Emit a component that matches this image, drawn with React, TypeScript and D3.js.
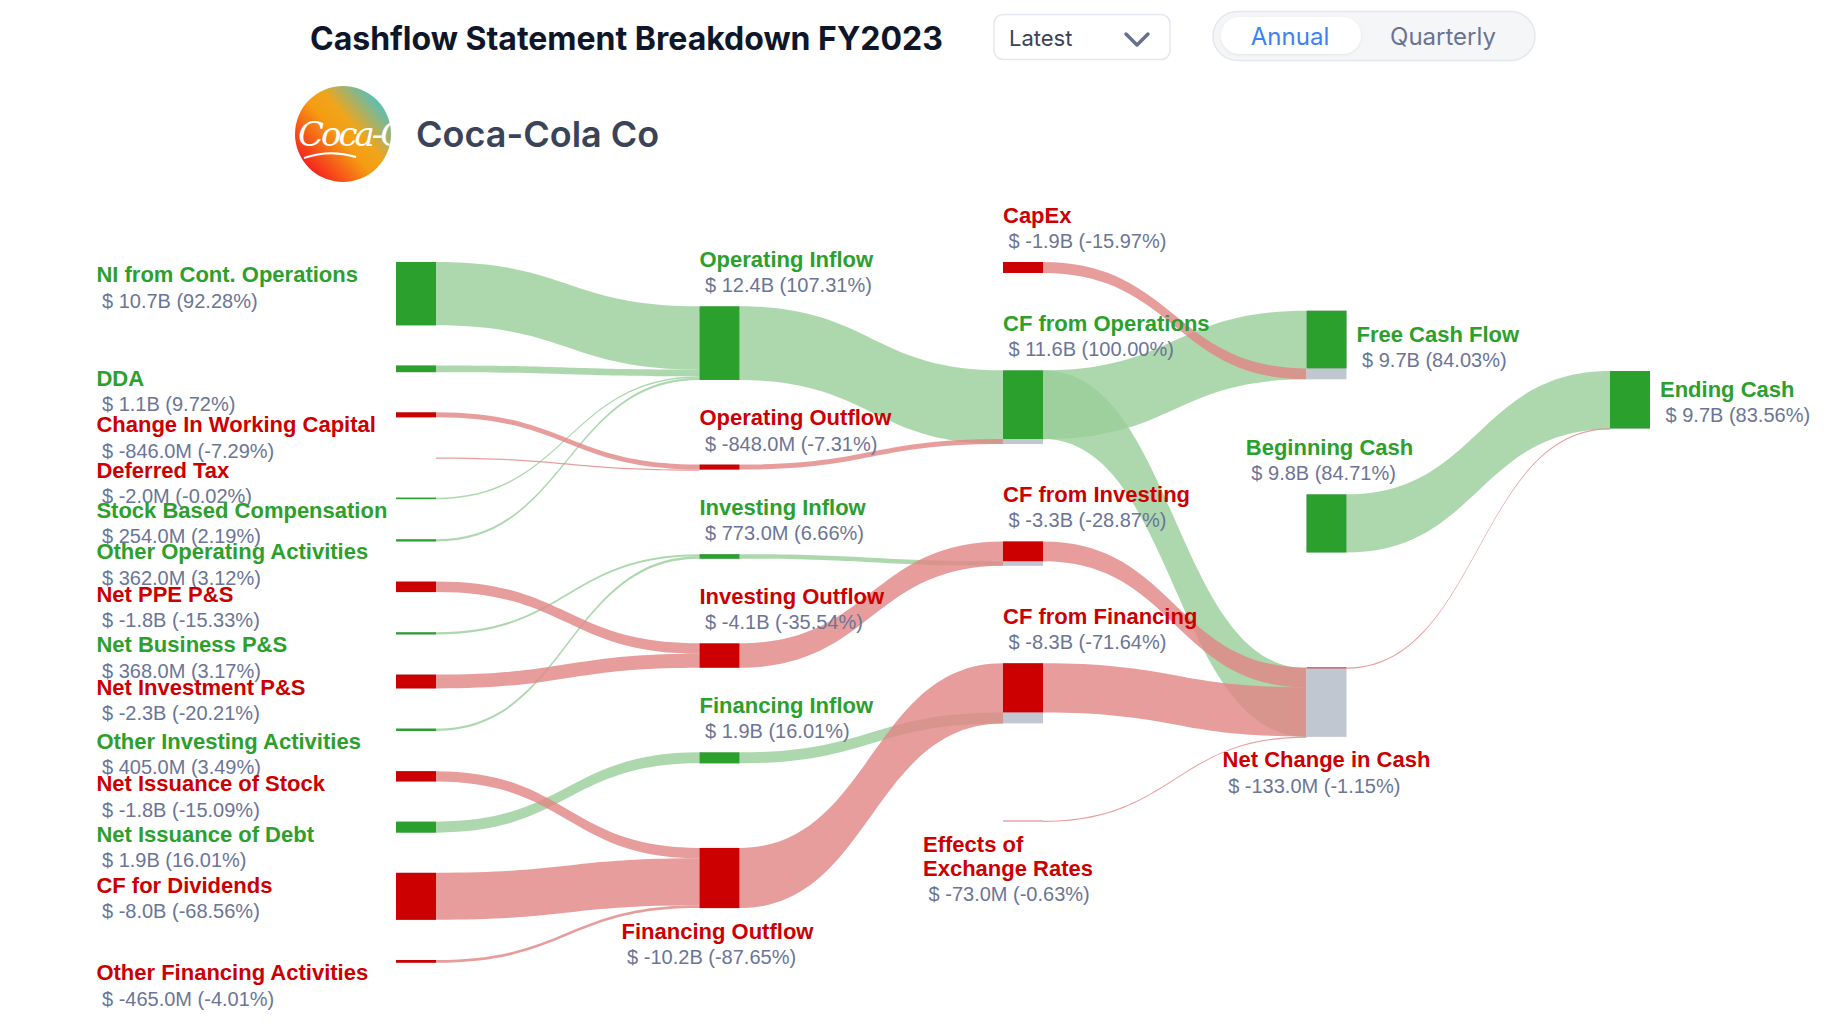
import React, { useMemo } from "react";
import * as d3 from "d3";

// ---------- DATA (values in $ millions) ----------
const NODE_LABELS: string[] = [
  "NI from Cont. Operations",
  "DDA",
  "Change In Working Capital",
  "Deferred Tax",
  "Stock Based Compensation",
  "Other Operating Activities",
  "Net PPE P&S",
  "Net Business P&S",
  "Net Investment P&S",
  "Other Investing Activities",
  "Net Issuance of Stock",
  "Net Issuance of Debt",
  "CF for Dividends",
  "Other Financing Activities",
  "Operating Inflow",
  "Operating Outflow",
  "Investing Inflow",
  "Investing Outflow",
  "Financing Inflow",
  "Financing Outflow",
  "CapEx",
  "CF from Operations",
  "CF from Investing",
  "CF from Financing",
  "Effects of Exchange Rates",
  "Free Cash Flow",
  "Beginning Cash",
  "Net Change in Cash",
  "Ending Cash",
];

const NODE_COLUMNS: number[] = [
  0, 0, 0, 0, 0, 0, 0, 0, 0, 0, 0, 0, 0, 0,
  1, 1, 1, 1, 1, 1,
  2, 2, 2, 2, 2,
  3, 3, 3,
  4,
];

const LINK_FROM: string[] = [
  "NI from Cont. Operations", "DDA", "Stock Based Compensation", "Other Operating Activities",
  "Change In Working Capital", "Deferred Tax",
  "Net Business P&S", "Other Investing Activities",
  "Net PPE P&S", "Net Investment P&S",
  "Net Issuance of Debt",
  "Net Issuance of Stock", "CF for Dividends", "Other Financing Activities",
  "Operating Inflow", "Operating Outflow",
  "Investing Inflow", "Investing Outflow",
  "Financing Inflow", "Financing Outflow",
  "CF from Operations", "CapEx",
  "CF from Operations", "CF from Investing", "CF from Financing", "Effects of Exchange Rates",
  "Beginning Cash", "Net Change in Cash",
];

const LINK_TO: string[] = [
  "Operating Inflow", "Operating Inflow", "Operating Inflow", "Operating Inflow",
  "Operating Outflow", "Operating Outflow",
  "Investing Inflow", "Investing Inflow",
  "Investing Outflow", "Investing Outflow",
  "Financing Inflow",
  "Financing Outflow", "Financing Outflow", "Financing Outflow",
  "CF from Operations", "CF from Operations",
  "CF from Investing", "CF from Investing",
  "CF from Financing", "CF from Financing",
  "Free Cash Flow", "Free Cash Flow",
  "Net Change in Cash", "Net Change in Cash", "Net Change in Cash", "Net Change in Cash",
  "Ending Cash", "Ending Cash",
];

const LINK_VALUES: number[] = [
  10704, 1127, 254, 362,
  -846, -2,
  368, 405,
  -1778, -2344,
  1857,
  -1750, -7952, -465,
  12447, -848,
  773, -4122,
  1857, -10167,
  11599, -1852,
  11599, -3349, -8310, -73,
  9825, -133,
];

const BASE_NODE = "CF from Operations";

// ---------- STYLE / LAYOUT ----------
const W = 1844;
const H = 1030;
const NODE_W = 40;
const X_FIRST = 396;
const X_LAST = 1610;
const EXTENT_TOP = 262;
const EXTENT_BOTTOM = 962.75;
const COL_TOP = [262, 306.3, 262, 310.7, 371];
const COL_GAP = [40.15, 84.6, 97.4, 115, 0];
const LEFT_LABEL_X = 96.4;

const GREEN = "#2ca02c";
const RED = "#cc0000";
const GREEN_LINK = "#98ce98";
const RED_LINK = "#e28585";
const LINK_OPACITY = 0.8;
const GREY = "#c1c7d0";
const VALUE_COLOR = "#6b7597";
const LABEL_FONT = "'Liberation Sans', Arial, Helvetica, sans-serif";

type Placement = "left" | "top" | "bottom" | "topCenter" | "right";
const PLACEMENT: Record<string, Placement> = {
  "Financing Outflow": "bottom",
  "Effects of Exchange Rates": "bottom",
  "Free Cash Flow": "right",
  "Ending Cash": "right",
  "Beginning Cash": "topCenter",
  "Net Change in Cash": "bottom",
};
const LABEL_WRAP: Record<string, string[]> = {
  "Effects of Exchange Rates": ["Effects of", "Exchange Rates"],
};
const LABEL_DX: Record<string, number> = {
  "Effects of Exchange Rates": -15,
  "Beginning Cash": 3,
  "Financing Outflow": -2,
};

let ctx: CanvasRenderingContext2D | null = null;
function measure(text: string, font: string): number {
  if (!ctx) ctx = document.createElement("canvas").getContext("2d");
  if (!ctx) return text.length * 10;
  ctx.font = font;
  return ctx.measureText(text).width;
}

function fmtMoney(v: number): string {
  return Math.abs(v) >= 1000 ? `${(v / 1000).toFixed(1)}B` : `${v.toFixed(1)}M`;
}

export default function App() {
  const layout = useMemo(() => {
    const nodes: any[] = NODE_LABELS.map((name, i) => ({ name, col: NODE_COLUMNS[i], idx: i, ins: [], outs: [] }));
    const byName = new Map(nodes.map((n) => [n.name, n]));
    const links: any[] = LINK_VALUES.map((v, i) => ({
      source: byName.get(LINK_FROM[i]),
      target: byName.get(LINK_TO[i]),
      value: v,
      idx: i,
    }));
    links.forEach((l) => {
      l.source.outs.push(l);
      l.target.ins.push(l);
    });
    nodes.forEach((n) => {
      const src = n.ins.length ? n.ins : n.outs;
      n.value = d3.sum(src, (l: any) => l.value);
      n.pos = d3.sum(n.ins, (l: any) => Math.max(0, l.value));
      n.neg = d3.sum(n.ins, (l: any) => Math.max(0, -l.value));
      n.size = n.ins.length ? Math.max(n.pos, n.neg) : Math.abs(n.value);
    });
    const columns = d3
      .groups(nodes, (n: any) => n.col)
      .sort((a, b) => a[0] - b[0])
      .map((d) => d[1]);
    const col0 = columns[0];
    const ky = (EXTENT_BOTTOM - EXTENT_TOP - (col0.length - 1) * COL_GAP[0]) / d3.sum(col0, (n: any) => n.size);
    const yScale = d3.scaleLinear().domain([0, 1]).range([0, ky]);
    const xScale = d3.scaleLinear().domain([0, columns.length - 1]).range([X_FIRST, X_LAST]);

    columns.forEach((col, ci) => {
      let y = COL_TOP[ci];
      col.forEach((n: any) => {
        n.x0 = xScale(ci);
        n.x1 = n.x0 + NODE_W;
        n.y0 = y;
        n.y1 = y + yScale(n.size);
        n.colored = yScale(Math.abs(n.value));
        y = n.y1 + COL_GAP[ci];
      });
    });

    nodes.forEach((n) => {
      n.outs.forEach((l: any) => {
        l.width = yScale(Math.abs(l.value));
        l.sy0 = n.y0;
      });
    });
    nodes.forEach((n) => {
      const domPos = n.pos >= n.neg;
      const bySrc = (a: any, b: any) => a.source.y0 - b.source.y0;
      const dom = n.ins.filter((l: any) => (l.value >= 0) === domPos).sort(bySrc);
      const minr = n.ins.filter((l: any) => (l.value >= 0) !== domPos).sort(bySrc);
      let y = n.y0;
      dom.forEach((l: any) => {
        l.ty0 = y;
        y += l.width;
      });
      y = n.y1;
      minr
        .slice()
        .reverse()
        .forEach((l: any) => {
          y -= l.width;
          l.ty0 = y;
        });
    });

    const base = byName.get(BASE_NODE).value;
    return { nodes, links, base };
  }, []);

  const { nodes, links, base } = layout;

  const bandPath = (l: any) => {
    const t = Math.max(l.width, 1.2);
    const xs = l.source.x1;
    const xt = l.target.x0;
    const xm = (xs + xt) / 2;
    const p = d3.path();
    p.moveTo(xs, l.sy0);
    p.bezierCurveTo(xm, l.sy0, xm, l.ty0, xt, l.ty0);
    p.lineTo(xt, l.ty0 + t);
    p.bezierCurveTo(xm, l.ty0 + t, xm, l.sy0 + t, xs, l.sy0 + t);
    p.closePath();
    return p.toString();
  };

  const nameFont = `bold 22px ${LABEL_FONT}`;
  const valueFont = `20px ${LABEL_FONT}`;
  const spaceW = measure(" ", valueFont);

  const renderLabel = (n: any) => {
    const placement: Placement = PLACEMENT[n.name] || (n.col === 0 ? "left" : "top");
    const lines = LABEL_WRAP[n.name] || [n.name];
    const valueText = `$ ${fmtMoney(n.value)} (${((n.value / base) * 100).toFixed(2)}%)`;
    const color = n.value >= 0 ? GREEN : RED;
    const lh = 24;
    let x = n.x0;
    let yName = 0;
    if (placement === "left") {
      x = LEFT_LABEL_X;
      yName = n.y0 + 12.6;
    } else if (placement === "top") {
      x = n.x0;
      yName = n.y0 - 47;
    } else if (placement === "right") {
      x = n.x1 + 10;
      yName = (n.y0 + n.y1) / 2 - 11;
    } else {
      const wMax = Math.max(
        ...lines.map((s) => measure(s, nameFont)),
        measure(valueText, valueFont) + spaceW
      );
      x = (n.x0 + n.x1) / 2 - wMax / 2 + (LABEL_DX[n.name] || 0);
      yName = placement === "topCenter" ? n.y0 - 47 : n.y1 + 23;
    }
    const yValue = yName + (lines.length - 1) * lh + 26;
    return (
      <g key={"lab" + n.idx} fontFamily={LABEL_FONT}>
        {lines.map((s, i) => (
          <text key={i} x={x} y={yName + i * lh} fontSize={22} fontWeight="bold" fill={color} dominantBaseline="central">
            {s}
          </text>
        ))}
        <text x={x + spaceW} y={yValue} fontSize={20} fill={VALUE_COLOR} dominantBaseline="central">
          {valueText}
        </text>
      </g>
    );
  };

  return (
    <svg width={W} height={H} style={{ position: "fixed", left: 0, top: 0, display: "block" }}>
      <rect width={W} height={H} fill="#ffffff" />
      <defs>
        <linearGradient id="logoGrad" x1="0.1" y1="0.9" x2="0.95" y2="0.15">
          <stop offset="0" stopColor="#f5121f" />
          <stop offset="0.45" stopColor="#f59c12" />
          <stop offset="0.62" stopColor="#f0a51c" />
          <stop offset="1" stopColor="#3fc3d2" />
        </linearGradient>
        <clipPath id="logoClip">
          <circle cx={343} cy={134} r={48} />
        </clipPath>
        <filter id="pillShadow" x="-10%" y="-20%" width="120%" height="150%">
          <feDropShadow dx="0" dy="1" stdDeviation="1.5" floodColor="#000" floodOpacity="0.08" />
        </filter>
      </defs>

      {/* Header */}
      <text x={310} y={38} fontFamily="Inter, 'Open Sans', sans-serif" fontWeight={700} fontSize={32} fill="#0f1629" dominantBaseline="central">
        Cashflow Statement Breakdown FY2023
      </text>
      <rect x={994} y={14.5} width={176} height={45} rx={9} fill="#fff" stroke="#e3e8ef" strokeWidth={1.5} />
      <text x={1009} y={38} fontFamily="Inter, sans-serif" fontSize={22} fill="#3b4256" dominantBaseline="central">
        Latest
      </text>
      <polyline points="1126,34 1137,45 1148,34" fill="none" stroke="#67708c" strokeWidth={3.5} strokeLinecap="round" strokeLinejoin="round" />
      <rect x={1213} y={11.5} width={322} height={49} rx={24.5} fill="#f5f6f8" stroke="#e4e8ee" strokeWidth={1.5} />
      <rect x={1221} y={17} width={140} height={37} rx={18.5} fill="#fff" filter="url(#pillShadow)" />
      <text x={1290} y={36} fontFamily="Inter, sans-serif" fontSize={24} fill="#3b82f6" textAnchor="middle" dominantBaseline="central">
        Annual
      </text>
      <text x={1443} y={36} fontFamily="Inter, sans-serif" fontSize={24} fill="#6b7392" textAnchor="middle" dominantBaseline="central">
        Quarterly
      </text>

      {/* Logo + company */}
      <circle cx={343} cy={134} r={48} fill="url(#logoGrad)" />
      <g clipPath="url(#logoClip)">
        <text x={298} y={134} fontFamily="'DejaVu Serif', serif" fontStyle="italic" fontSize={34} fill="#fff" dominantBaseline="central" letterSpacing={-3}>
          Coca-Cola
        </text>
        <path d="M 304 158 Q 330 149 356 157" fill="none" stroke="#fff" strokeWidth={2} />
      </g>
      <text x={416} y={134} fontFamily="Inter, sans-serif" fontWeight={600} fontSize={36} fill="#3b4358" dominantBaseline="central">
        Coca-Cola Co
      </text>

      {/* Links */}
      <g>
        {links.map((l: any) => (
          <path key={"l" + l.idx} d={bandPath(l)} fill={l.value >= 0 ? GREEN_LINK : RED_LINK} opacity={LINK_OPACITY} />
        ))}
      </g>

      {/* Nodes */}
      <g>
        {nodes.map((n: any) => (
          <g key={"n" + n.idx}>
            <rect x={n.x0} y={n.y0} width={NODE_W} height={Math.max(0, n.y1 - n.y0)} fill={GREY} />
            <rect x={n.x0} y={n.y0} width={NODE_W} height={n.colored} fill={n.value >= 0 ? GREEN : RED} />
          </g>
        ))}
      </g>

      {/* Labels */}
      <g>{nodes.map((n: any) => renderLabel(n))}</g>
    </svg>
  );
}
